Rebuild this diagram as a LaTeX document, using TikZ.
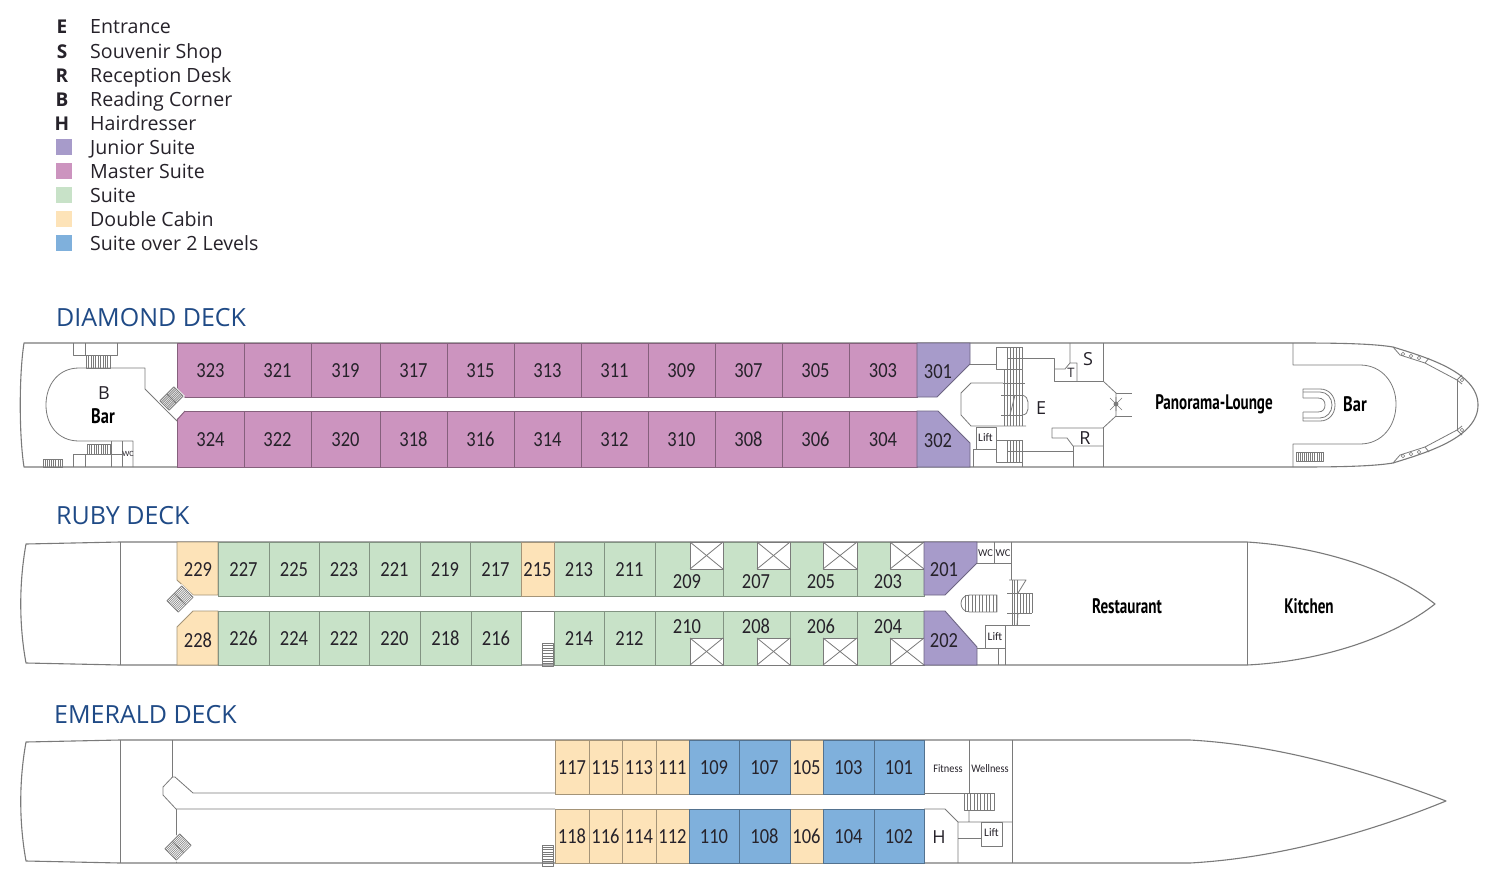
\documentclass[tikz,border=0pt]{standalone}
\usepackage{fontspec}
\usepackage{graphicx}
\setmainfont{Open Sans}
\newfontfamily\numfont[FakeStretch=0.86]{Carlito}
\newfontfamily\smallfont{Carlito}
\newfontfamily\narrowfont{PT Sans}
\definecolor{junior}{HTML}{A79BCA}
\definecolor{master}{HTML}{CC94BF}
\definecolor{suite}{HTML}{C8E2C8}
\definecolor{dblcab}{HTML}{FDE3B8}
\definecolor{twolev}{HTML}{7FB0DC}
\definecolor{ln}{HTML}{7A7A7A}
\definecolor{deckblue}{HTML}{1F4A86}
\definecolor{ink}{HTML}{26222A}
\tikzset{
  wall/.style={draw=ln,line width=0.8pt,line join=round},
  hull/.style={draw=ln,line width=1.1pt,line join=round},
  tread/.style={draw=ln,line width=0.55pt},
  cabtxt/.style={inner sep=0,text=ink,anchor=base,font=\numfont\fontsize{21.5}{21}\selectfont},
  legtxt/.style={anchor=base west,inner sep=0,text=ink,font=\fontsize{19.6}{20}\selectfont},
  legkey/.style={anchor=base,inner sep=0,text=ink,font=\bfseries\fontsize{19}{20}\selectfont},
  decktitle/.style={anchor=base west,inner sep=0,text=deckblue,font=\fontsize{25}{25}\selectfont},
  roomtxt/.style={inner sep=0,text=ink,font=\fontsize{18}{18}\selectfont},
  boldtxt/.style={inner sep=0,text=black,font=\narrowfont\bfseries\fontsize{21}{21}\selectfont},
  tiny/.style={inner sep=0,text=ink,font=\smallfont\fontsize{11.5}{12}\selectfont}
}
% cabin: x1 x2 y1 y2 colour number
\newcommand{\cab}[6]{%
  \draw[draw=#5!65!black,line width=0.9pt,fill=#5] (#1,#3) rectangle (#2,#4);
  \node[cabtxt] (c#6) at ({(#1+#2)/2},{(#3+#4)/2+7.5}) {#6};}
% cabin surface only, label placed apart
\newcommand{\cabx}[8]{%
  \draw[draw=#5!65!black,line width=0.9pt,fill=#5] (#1,#3) rectangle (#2,#4);
  \node[cabtxt] (c#6) at (#7,#8+7.5) {#6};}
% treads vertical: x1 y1 x2 y2 n
\newcommand{\stv}[5]{%
  \draw[wall] (#1,#2) rectangle (#3,#4);
  \foreach \i in {1,...,#5} \draw[tread] ({#1+(#3-#1)*\i/#5},#2) -- ({#1+(#3-#1)*\i/#5},#4);}
% treads horizontal
\newcommand{\sth}[5]{%
  \draw[wall] (#1,#2) rectangle (#3,#4);
  \foreach \i in {1,...,#5} \draw[tread] (#1,{#2+(#4-#2)*\i/#5}) -- (#3,{#2+(#4-#2)*\i/#5});}
% diagonal double stair: centre x y, half length, half width
\newcommand{\dst}[4]{%
  \begin{scope}[shift={(#1,#2)},rotate=45]
    \draw[draw=white,fill=white] (-#3-1,-#4-1) rectangle (#3+1,#4+1);
    \draw[wall] (-#3,-#4) rectangle (#3,#4);
    \draw[wall] (0,-#4) -- (0,#4);
    \foreach \i in {-4,...,4} \draw[tread] (-#3,{#4*\i/5}) -- (#3,{#4*\i/5});
  \end{scope}}
% crossed void
\newcommand{\xbox}[4]{%
  \draw[wall,fill=white] (#1,#2) rectangle (#3,#4);
  \draw[wall] (#1,#2) -- (#3,#4) (#1,#4) -- (#3,#2);}
\begin{document}
\begin{tikzpicture}[x=1pt,y=-1pt]
\useasboundingbox[fill=white] (0,0) rectangle (1500,886);
% ---------- legend
\node[legkey] (kE) at (62,34) {E};   \node[legtxt] (tE) at (90,34) {Entrance};
\node[legkey] (kS) at (62,58) {S};   \node[legtxt] (tS) at (90,58) {Souvenir Shop};
\node[legkey] (kR) at (62,82) {R};   \node[legtxt] (tR) at (90,82) {Reception Desk};
\node[legkey] (kB) at (62,106) {B};  \node[legtxt] (tB) at (90,106) {Reading Corner};
\node[legkey] (kH) at (62,130) {H};  \node[legtxt] (tH) at (90,130) {Hairdresser};
\fill[junior] (56,139) rectangle (72,155); \node[legtxt] (tJ) at (90,154) {Junior Suite};
\fill[master] (56,163) rectangle (72,179); \node[legtxt] (tM) at (90,178) {Master Suite};
\fill[suite]  (56,187) rectangle (72,203); \node[legtxt] (tSu) at (90,202) {Suite};
\fill[dblcab] (56,211) rectangle (72,227); \node[legtxt] (tD) at (90,226) {Double Cabin};
\fill[twolev] (56,235) rectangle (72,251); \node[legtxt] (tL) at (90,250) {Suite over 2 Levels};
% ---------- titles
\node[decktitle] (dd) at (56,326) {DIAMOND DECK};
\node[decktitle] (rd) at (56,524) {RUBY DECK};
\node[decktitle] (ed) at (54,723) {EMERALD DECK};

% ========== DIAMOND DECK
\draw[hull] (24,343) -- (1300,343) .. controls (1345,343) and (1375,344) .. (1393,347)
  .. controls (1425,357) and (1478,372) .. (1478,405)
  .. controls (1478,438) and (1425,453) .. (1393,463)
  .. controls (1375,466) and (1345,467) .. (1300,467) -- (24,467)
  .. controls (19,435) and (19,375) .. (24,343) -- cycle;
% cabins
\foreach \a/\b/\n in {177/244/323,244/311/321,311/380/319,380/447/317,447/514/315,514/581/313,581/648/311,648/715/309,715/782/307,782/849/305,849/917/303}{
  \cab{\a}{\b}{343}{397}{master}{\n}}
\foreach \a/\b/\n in {177/244/324,244/311/322,311/380/320,380/447/318,447/514/316,514/581/314,581/648/312,648/715/310,715/782/308,782/849/306,849/917/304}{
  \cab{\a}{\b}{411}{467}{master}{\n}}
\fill[white] (176,389) -- (185,397.5) -- (176,397.5) -- cycle;
\fill[white] (176,420) -- (185,410.5) -- (176,410.5) -- cycle;
\draw[draw=master!65!black,line width=0.9pt] (177,388) -- (185,397) (177,420) -- (185,411);
\draw[draw=junior!65!black,line width=0.9pt,fill=junior] (917,343) -- (970,343) -- (970,364) -- (937,397) -- (917,397) -- cycle;
\draw[draw=junior!65!black,line width=0.9pt,fill=junior] (917,411) -- (938,411) -- (970,443) -- (970,467) -- (917,467) -- cycle;
\node[cabtxt] (c301) at (938,378) {301};
\node[cabtxt] (c302) at (938,447.5) {302};
% stern public area
\draw[wall] (145,389) -- (145,368) -- (79,368) .. controls (58,368) and (46,385) .. (46,405)
  .. controls (46,425) and (58,441) .. (79,441) -- (133,441) -- (133,467);
\draw[wall] (145,389) -- (177,421);
\draw[wall] (111,441) -- (111,467) (122,441) -- (122,467) (73,467) -- (73,454) -- (122,454) (85,454) -- (85,467);
\draw[wall] (73,343) -- (73,355) -- (117,355) -- (117,343) (85,343) -- (85,355);
\stv{86}{355}{110}{368}{10}
\stv{87}{444}{110}{454}{10}
\stv{43}{459}{62}{467}{9}
\dst{171.5}{398.5}{10}{6.5}
\node[roomtxt] (nB) at (104,393) {B};
\node[boldtxt] (nBar1) at (103,416) {\scalebox{.78}[1]{Bar}};
\node[tiny,font=\smallfont\fontsize{8}{8}\selectfont] (nWC) at (128,454) {WC};
% midship
\draw[wall] (970,364) -- (996,364);
\draw[wall] (996,347) rectangle (1007,369);
\stv{1007}{347}{1022}{369}{5}
\draw[wall] (1007,358) -- (1022,358);
\draw[wall] (1022,358) -- (1054,358) -- (1054,381) -- (1103,381) -- (1103,343);
\draw[wall] (1070,343) -- (1070,363) -- (1065,369) -- (1054,369) (1070,363) -- (1077,363) -- (1077,381);
\draw[wall] (1103,381) -- (1116,393) -- (1116,416) -- (1103,428) -- (1052,428) -- (1052,438) -- (1067,438) -- (1073,446) -- (1103,446);
\draw[wall] (1116,393) -- (1132,393) (1116,416) -- (1132,416);
\draw[wall] (1073,446) -- (1073,467) (1103,428) -- (1103,467);
\draw[wall] (1003,383) -- (971,383) -- (961,393) -- (961,415) -- (971,426) -- (1026,426);
\draw[wall] (1022,395) .. controls (1026,396) and (1028,399) .. (1028,402) -- (1028,409) .. controls (1028,412) and (1026,415) .. (1022,415);
\foreach \x in {1004,1007,...,1023} \draw[tread] (\x,370) -- (\x,426);
\draw[wall] (1003,383) -- (1025,383) (1001,395) -- (1022,395) (1001,415) -- (1022,415);
\draw[wall] (1015,395) -- (1010,415);
\draw[wall] (976,427) rectangle (996,449);
\draw[wall] (996,440) rectangle (1007,462);
\stv{1007}{440}{1022}{462}{5}
\draw[wall] (1007,451) -- (1022,451);
\draw[wall] (973,467) -- (973,449) -- (996,449);
\draw[wall] (1022,451) -- (1073,451);
\draw[wall] (1022,462) -- (1022,467);
% fan symbol
\draw[tread] (1110,398) -- (1122,410) (1110,410) -- (1122,398) (1116,397) -- (1116,411);
\draw[wall,fill=ln] (1116,404) circle (2);
\node[roomtxt] (nE) at (1041,408) {E};
\node[roomtxt] (nS) at (1088,359) {S};
\node[roomtxt] (nR) at (1085,438) {R};
\node[roomtxt,font=\fontsize{13}{13}\selectfont] (nT) at (1071,373) {T};
\node[tiny] (nLift1) at (985.5,438) {Lift};
\node[boldtxt] (nPL) at (1214,404) {\scalebox{.72}[1]{Panorama-Lounge}};
\node[boldtxt] (nBar2) at (1355,404) {\scalebox{.78}[1]{Bar}};
% forward bar
\draw[wall] (1293,343) -- (1293,365) -- (1360,365) .. controls (1382,365) and (1396,383) .. (1396,404)
  .. controls (1396,426) and (1382,444) .. (1360,444) -- (1293,444) -- (1293,467);
\stv{1296}{452}{1323}{461}{13}
\draw[wall] (1303,398) -- (1303,389) -- (1320,389) .. controls (1329,389) and (1335,396) .. (1335,405)
  .. controls (1335,414) and (1329,421) .. (1320,421) -- (1303,421) -- (1303,412);
\draw[wall] (1303,392) -- (1320,392) .. controls (1327,392) and (1332,398) .. (1332,405)
  .. controls (1332,412) and (1327,418) .. (1320,418) -- (1303,418);
\draw[wall] (1303,398) -- (1318,398) .. controls (1323,398) and (1325,401) .. (1325,405)
  .. controls (1325,409) and (1323,412) .. (1318,412) -- (1303,412);
% bow rails
\foreach \m in {1,-1}{
  \begin{scope}[shift={(0,405)},yscale=\m]
    \draw[wall] (1393,-58) -- (1400,-50) -- (1425,-42) -- (1429,-47);
    \draw[wall] (1425,-42) -- (1457,-25) -- (1462,-30);
    \draw[wall] (1457,-25) -- (1462,-21);
    \foreach \x in {1403,1411,1419} \draw[tread] (\x,{-51+(\x-1403)*0.25}) circle (1.8);
    \draw[tread] (1462,-25) circle (1.8);
  \end{scope}}
\draw[wall] (1457,380) -- (1457,430);

% ========== RUBY DECK
\draw[hull] (26,544) -- (120,542) -- (1247,542) .. controls (1310,546) and (1385,565) .. (1435,604)
  .. controls (1385,643) and (1310,662) .. (1247,665) -- (120,665) -- (26,663)
  .. controls (19,625) and (19,583) .. (26,544) -- cycle;
\draw[wall] (120.5,542) -- (120.5,665) (1247,542) -- (1247,665);
\draw[draw=dblcab!65!black,line width=0.9pt,fill=dblcab] (177,542) -- (218,542) -- (218,595) -- (193,595) -- (177,580) -- cycle;
\draw[draw=dblcab!65!black,line width=0.9pt,fill=dblcab] (177,665) -- (218,665) -- (218,611) -- (193,611) -- (177,627) -- cycle;
\node[cabtxt] (c229) at (198,576.5) {229};
\node[cabtxt] (c228) at (198,647.5) {228};
\foreach \a/\b/\n in {218/269/227,269/319/225,319/369/223,369/420/221,420/470/219,470/521/217,554/604/213,604/655/211}{
  \cab{\a}{\b}{542}{596}{suite}{\n}}
\cab{521}{554}{542}{596}{dblcab}{215}
\foreach \a/\b/\n in {218/269/226,269/319/224,319/369/222,369/420/220,420/471/218,471/521/216,554/604/214,604/655/212}{
  \cab{\a}{\b}{611}{665}{suite}{\n}}
\foreach \a/\b/\n/\l in {655/723/209/687,723/790/207/756,790/857/205/821,857/924/203/888}{
  \cabx{\a}{\b}{542}{596}{suite}{\n}{\l}{581}}
\foreach \a/\b/\n/\l in {655/723/210/687,723/790/208/756,790/857/206/821,857/924/204/888}{
  \cabx{\a}{\b}{611}{665}{suite}{\n}{\l}{626}}
\foreach \a/\b in {690/723,757/790,823/857,890/924}{\xbox{\a}{542}{\b}{569}\xbox{\a}{638}{\b}{665}}
\draw[draw=junior!65!black,line width=0.9pt,fill=junior] (924,542) -- (977,542) -- (977,563) -- (945,595) -- (924,595) -- cycle;
\draw[draw=junior!65!black,line width=0.9pt,fill=junior] (924,611) -- (945,611) -- (977,647) -- (977,665) -- (924,665) -- cycle;
\node[cabtxt] (c201) at (944,576.5) {201};
\node[cabtxt] (c202) at (944,647.5) {202};
\draw[wall] (521,611) -- (554,611);
\sth{542}{643}{553}{666}{9}
\dst{180}{599}{10.5}{8}
% ruby midship
\draw[wall] (977,563) -- (1011,563) (994,542) -- (994,563) (1011,542) -- (1011,580);
\node[tiny,font=\smallfont\fontsize{10.5}{11}\selectfont] (nWC1) at (985.5,553) {WC};
\node[tiny,font=\smallfont\fontsize{10.5}{11}\selectfont] (nWC2) at (1003,553) {WC};
\draw[wall] (997,595) -- (970,595) .. controls (964,595) and (961,599) .. (961,603.5)
  .. controls (961,608) and (964,612) .. (970,612) -- (997,612) -- cycle;
\foreach \x in {965,968.5,...,997} \draw[tread] (\x,595) -- (\x,612);
\draw[wall] (1009,580) -- (1026,580) -- (1018,593);
\draw[wall] (1007,593) -- (1032,593) (1007,613) -- (1032,613);
\draw[wall] (1018,613) -- (1017,625);
\draw[wall] (1005,625) -- (1030,625);
\foreach \x in {1012,1014.5,1017,1020,1023,...,1032} \draw[tread] (\x,{\x<1018?580:593}) -- (\x,{\x<1018?625:613});
\draw[wall] (985,625) rectangle (1005,648);
\draw[wall] (1005,648) -- (1005,665) (977,648) -- (985,648) (998,648) -- (998,665);
\node[tiny] (nLift2) at (995,637) {Lift};
\node[boldtxt] (nRest) at (1127,606) {\scalebox{.72}[1]{Restaurant}};
\node[boldtxt] (nKit) at (1309,606) {\scalebox{.72}[1]{Kitchen}};

% ========== EMERALD DECK
\draw[hull] (26,742) -- (120,740) -- (1190,740) .. controls (1280,745) and (1370,772) .. (1446,801)
  .. controls (1370,832) and (1280,858) .. (1190,863) -- (120,863) -- (26,861)
  .. controls (19,822) and (19,781) .. (26,742) -- cycle;
\draw[wall] (120.5,740) -- (120.5,863);
\draw[wall] (172.5,740) -- (172.5,777) -- (175,777) -- (193,793) -- (924,793);
\draw[wall] (172.5,777) -- (163,787) -- (163,795) -- (176,809) -- (555,809);
\draw[wall] (176,809) -- (176,863);
\dst{178}{847}{10.5}{8}
\foreach \a/\b/\n in {555/589/117,589/622/115,622/656/113,656/689/111,790/823/105}{
  \cab{\a}{\b}{740}{794}{dblcab}{\n}}
\foreach \a/\b/\n in {689/739/109,739/790/107,823/874/103,874/924/101}{
  \cab{\a}{\b}{740}{794}{twolev}{\n}}
\foreach \a/\b/\n in {555/589/118,589/622/116,622/656/114,656/689/112,790/823/106}{
  \cab{\a}{\b}{809}{863}{dblcab}{\n}}
\foreach \a/\b/\n in {689/739/110,739/790/108,823/874/104,874/924/102}{
  \cab{\a}{\b}{809}{863}{twolev}{\n}}
\sth{542}{845}{553}{866}{9}
\draw[wall] (924,793) -- (969,793) (969,740) -- (969,793) (1012,740) -- (1012,863);
\stv{964}{793}{994}{810}{9}
\draw[wall] (924,809) -- (945,809) -- (958,822) -- (958,863) (958,822) -- (1012,822) (969,810) -- (969,822);
\draw[wall] (981,822) rectangle (1002,846);
\draw[wall] (958,838) -- (981,838);
\node[tiny] (nFit) at (948,768.5) {\scalebox{.9}[1]{Fitness}};
\node[tiny] (nWell) at (990,768.5) {\scalebox{.9}[1]{Wellness}};
\node[roomtxt] (nH) at (939,837) {H};
\node[tiny] (nLift3) at (991.5,833) {Lift};
\end{tikzpicture}
\end{document}
